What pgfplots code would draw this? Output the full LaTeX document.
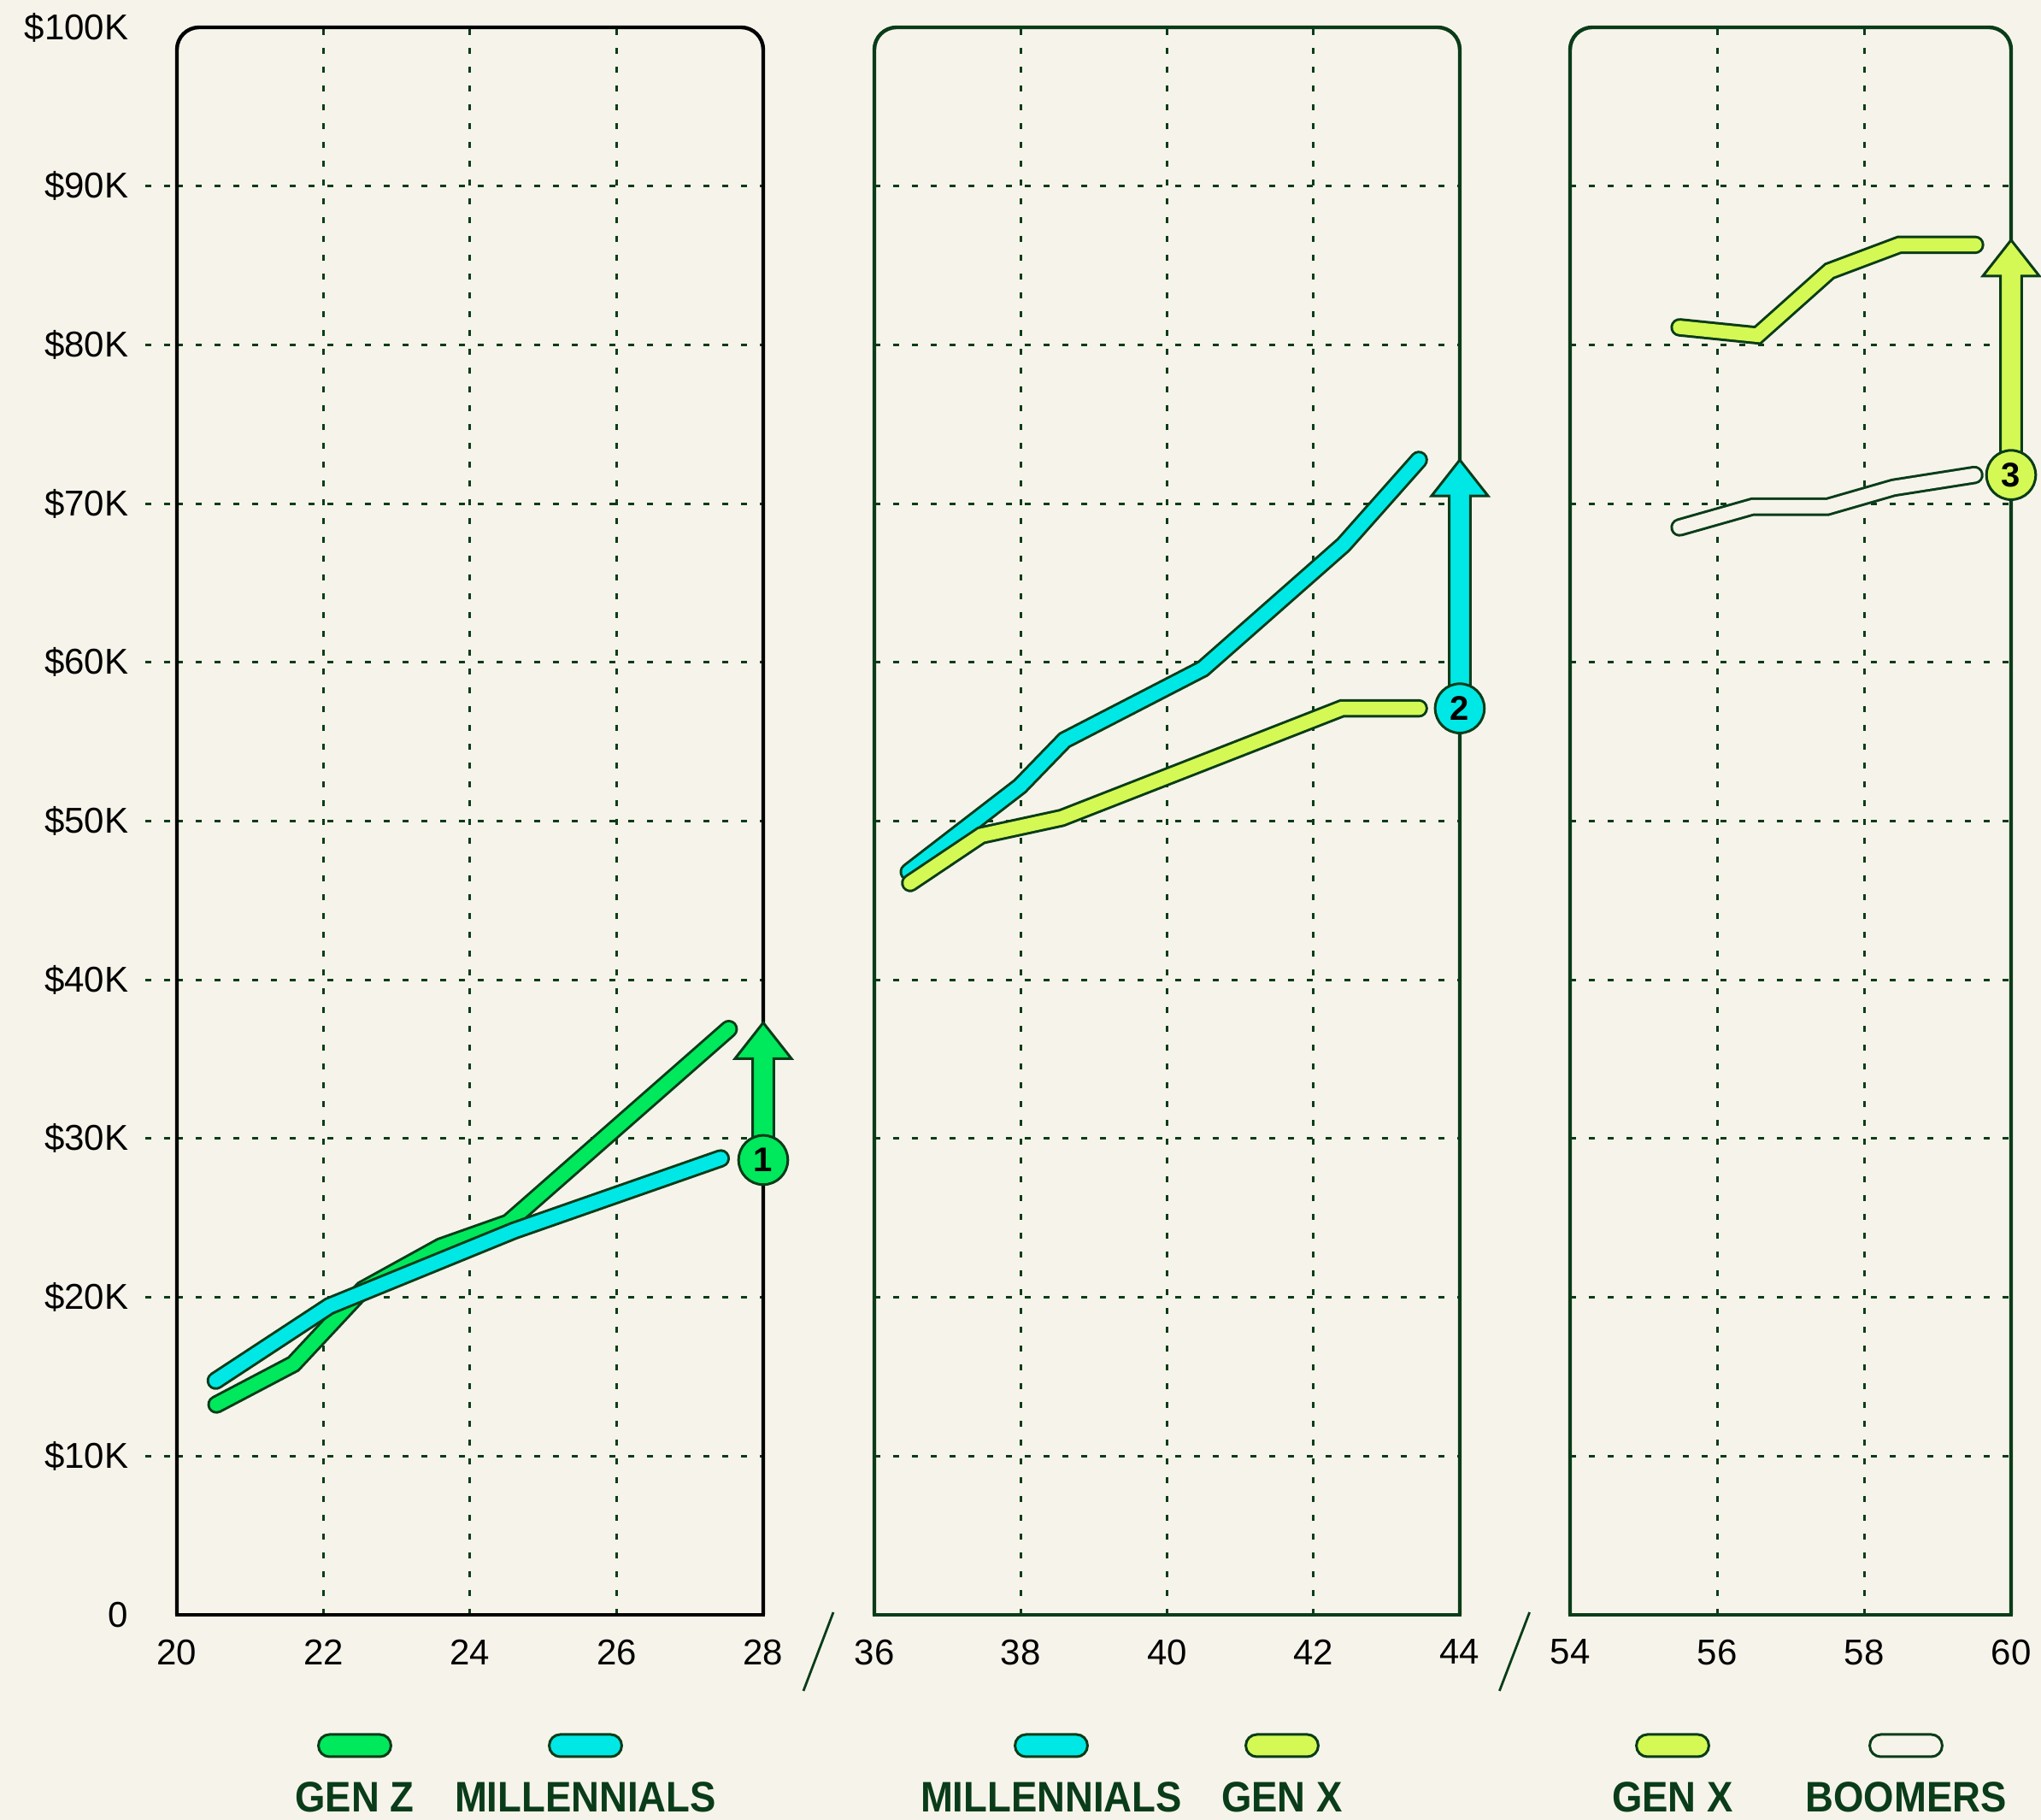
\documentclass[border=0pt]{standalone}
\usepackage{fontspec}
\setmainfont{Liberation Sans}
\newfontfamily\legendfont[FakeStretch=0.91]{Liberation Sans Bold}
\newfontfamily\numfont{Liberation Sans Bold}
\usepackage{pgfplots}
\usepackage{pgfplotstable}
\pgfplotsset{compat=1.18}
\definecolor{bg}{HTML}{F6F4EA}
\definecolor{dkgreen}{HTML}{0A3C19}
\definecolor{genz}{HTML}{00E85C}
\definecolor{mill}{HTML}{00E8E6}
\definecolor{genx}{HTML}{D4F954}

\pgfplotstableread{
age val
20.54 13.25
21.59 15.8
22.54 20.5
23.6 23.2
24.52 24.7
27.53 36.9
}\genzA
\pgfplotstableread{
age val
20.53 14.75
22.08 19.45
24.6 24.2
27.42 28.75
}\millA
\pgfplotstableread{
age val
36.47 46.8
37.99 52.2
38.6 55.1
40.49 59.6
42.41 67.4
43.44 72.75
}\millB
\pgfplotstableread{
age val
36.49 46.1
37.46 49.1
38.56 50.2
42.39 57.1
43.44 57.1
}\genxB
\pgfplotstableread{
age val
55.49 81.1
56.55 80.6
57.53 84.65
58.48 86.3
59.51 86.3
}\genxC
\pgfplotstableread{
age val
55.49 68.5
56.48 69.8
57.5 69.8
58.4 71.0
59.5 71.8
}\boomC

\pgfplotsset{
  panel/.style={
    scale only axis, height=464.25pt, ymin=0, ymax=100,
    axis line style={draw=none}, major tick length=0pt,
    tick style={draw=none},
    xmajorgrids, ymajorgrids,
    grid style={dkgreen, line width=0.75pt, dash pattern=on 1.7pt off 3.8pt},
    ytick={10,20,...,90},
    clip=false,
    ticklabel style={font=\fontsize{10.5}{12}\selectfont, text=black},
    xticklabel style={anchor=north, inner sep=0pt, yshift=-7pt},
    extra x tick style={grid=none},
    extra y tick style={grid=none},
  },
  edge/.style={dkgreen, line width=5.4pt, line cap=round, line join=miter, mark=none},
  core/.style={#1, line width=3.9pt, line cap=round, line join=miter, mark=none},
}

\newcommand\panelframe[1]{%
  \draw[#1, line width=1.1pt, rounded corners=6.5pt] (rel axis cs:0,0) -- (rel axis cs:0,1) -- (rel axis cs:1,1) -- (rel axis cs:1,0);
  \draw[#1, line width=1.1pt, line cap=rect] (rel axis cs:0,0) -- (rel axis cs:1,0);}

\newcommand\growarrow[5]{%
  \draw[fill=#4, draw=dkgreen, line width=0.75pt]
    ([xshift=-3.1pt]axis cs:#1,#2) -- ([xshift=-3.1pt,yshift=-10.5pt]axis cs:#1,#3)
    -- ([xshift=-8.25pt,yshift=-10.5pt]axis cs:#1,#3) -- (axis cs:#1,#3)
    -- ([xshift=8.25pt,yshift=-10.5pt]axis cs:#1,#3) -- ([xshift=3.1pt,yshift=-10.5pt]axis cs:#1,#3)
    -- ([xshift=3.1pt]axis cs:#1,#2) -- cycle;
  \node[circle, fill=#4, draw=dkgreen, line width=0.75pt, minimum size=14.4pt, inner sep=0pt,
        font=\numfont\fontsize{10}{12}\selectfont] at (axis cs:#1,#2) {#5};}

\newcommand\legitem[3]{% x, fill, label
  \draw[fill=#2, draw=dkgreen, line width=0.75pt, rounded corners=3.2pt]
    ([xshift=-10.6pt]#1,18.5pt) rectangle ([xshift=10.6pt]#1,25pt);
  \node[anchor=base, inner sep=0pt, text=dkgreen, font=\legendfont\fontsize{12.5}{14}\selectfont] at (#1,2.25pt) {#3};}

\begin{document}
\begin{tikzpicture}
\path[use as bounding box, fill=bg] (0,0) rectangle (597pt,532.25pt);

% Panel 1
\begin{axis}[panel, at={(51.75pt,60pt)}, anchor=south west, width=171.5pt,
  xmin=20, xmax=28,
  xtick={22,24,26}, xticklabels={22,24,26},
  extra x ticks={20,28}, extra x tick labels={20,28},
  yticklabels={\$10K,\$20K,\$30K,\$40K,\$50K,\$60K,\$70K,\$80K,\$90K},
  extra y ticks={0,100}, extra y tick labels={0,\$100K},
  yticklabel style={anchor=east, inner sep=0pt, xshift=-14pt}]
  \pgfplotsinvokeforeach{10,20,...,90}{%
    \draw[dkgreen, line width=0.75pt, dash pattern=on 1.7pt off 3.8pt] ([xshift=-9.25pt]axis cs:20,#1) -- (axis cs:20,#1);}
  \addplot[edge] table[x=age,y=val] {\genzA};
  \addplot[core=genz] table[x=age,y=val] {\genzA};
  \addplot[edge] table[x=age,y=val] {\millA};
  \addplot[core=mill] table[x=age,y=val] {\millA};
  \panelframe{black}
  \growarrow{28}{28.65}{37.3}{genz}{1}
\end{axis}

% Panel 2
\begin{axis}[panel, at={(255.75pt,60pt)}, anchor=south west, width=171.25pt,
  xmin=36, xmax=44,
  xtick={38,40,42}, xticklabels={38,40,42},
  extra x ticks={36,44}, extra x tick labels={36,44},
  yticklabels={}]
  \addplot[edge] table[x=age,y=val] {\millB};
  \addplot[core=mill] table[x=age,y=val] {\millB};
  \addplot[edge] table[x=age,y=val] {\genxB};
  \addplot[core=genx] table[x=age,y=val] {\genxB};
  \panelframe{dkgreen}
  \growarrow{44}{57.1}{72.75}{mill}{2}
\end{axis}

% Panel 3
\begin{axis}[panel, at={(459.25pt,60pt)}, anchor=south west, width=129pt,
  xmin=54, xmax=60,
  xtick={56,58}, xticklabels={56,58},
  extra x ticks={54,60}, extra x tick labels={54,60},
  yticklabels={}]
  \addplot[edge] table[x=age,y=val] {\genxC};
  \addplot[core=genx] table[x=age,y=val] {\genxC};
  \addplot[edge] table[x=age,y=val] {\boomC};
  \addplot[core=bg] table[x=age,y=val] {\boomC};
  \panelframe{dkgreen}
  \growarrow{60}{71.8}{86.6}{genx}{3}
\end{axis}

% axis break slashes
\draw[dkgreen, line width=0.7pt] (243.75pt,60.75pt) -- (235pt,37.75pt);
\draw[dkgreen, line width=0.7pt] (447.4pt,60.75pt) -- (438.6pt,37.75pt);

% legends
\legitem{103.75pt}{genz}{GEN Z}
\legitem{171.25pt}{mill}{MILLENNIALS}
\legitem{307.5pt}{mill}{MILLENNIALS}
\legitem{375pt}{genx}{GEN X}
\legitem{489.25pt}{genx}{GEN X}
\legitem{557.5pt}{bg}{BOOMERS}
\end{tikzpicture}
\end{document}
